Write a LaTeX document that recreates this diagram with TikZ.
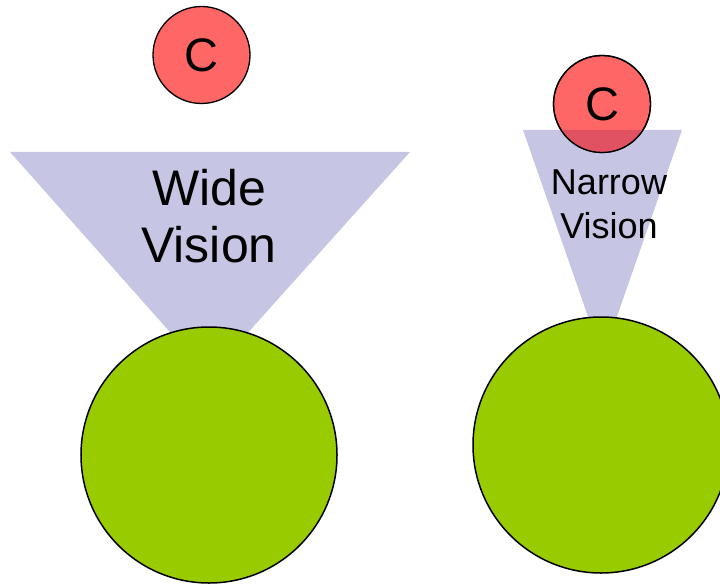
\documentclass[tikz,border=0pt]{standalone}
\usepackage{fontspec}
\setmainfont{Liberation Sans}
\definecolor{redc}{RGB}{255,102,102}
\definecolor{lav}{RGB}{198,198,228}
\definecolor{overlap}{RGB}{224,82,98}
\definecolor{greenc}{RGB}{153,204,0}
\begin{document}
\begin{tikzpicture}[x=1bp,y=-1bp,
  redball/.style={circle,draw=black,line width=1.3bp,fill=redc,minimum size=97bp,inner sep=0pt,font=\fontsize{47bp}{50bp}\selectfont},
  greenball/.style={circle,draw=black,line width=1.5bp,fill=greenc,minimum size=256bp,inner sep=0pt},
  bigtxt/.style={anchor=base,inner sep=0pt,font=\fontsize{50bp}{56bp}\selectfont},
  smalltxt/.style={anchor=base,inner sep=0pt,font=\fontsize{36bp}{43bp}\selectfont}]
\useasboundingbox (0,0) rectangle (720,584);
% left
\fill[lav] (10,152) -- (410,152) -- (209,376) -- cycle;
\node[redball] (c1) at (201.5,55) {C};
\node[greenball] (g1) at (209,455) {};
\node[bigtxt] (w1) at (209,206) {Wide};
\node[bigtxt] (w2) at (209,262) {Vision};
% right
\fill[lav] (523,130) -- (682,130) -- (602.5,358) -- cycle;
\node[redball] (c2) at (602,104) {C};
\begin{scope}
\clip (523,130) -- (682,130) -- (602.5,358) -- cycle;
\fill[overlap] (c2.center) circle[radius=48.5];
\end{scope}
\draw[line width=1.3bp] (c2.center) circle[radius=48.5];
\node[greenball] (g2) at (601,445) {};
\node[smalltxt] (n1) at (609,195) {Narrow};
\node[smalltxt] (n2) at (609,238) {Vision};
\end{tikzpicture}
\end{document}
